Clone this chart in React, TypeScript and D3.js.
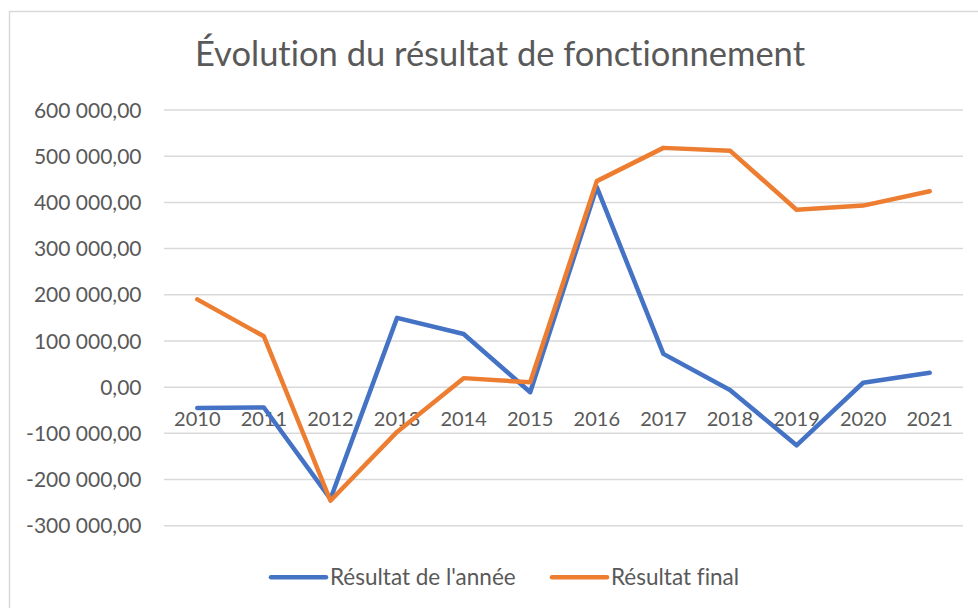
import React from 'react';
import * as d3 from 'd3';

const years = ['2010', '2011', '2012', '2013', '2014', '2015', '2016', '2017', '2018', '2019', '2020', '2021'];
const resultatAnnee = [-45000, -44000, -242000, 150000, 115000, -11000, 433000, 72000, -6000, -126000, 9500, 31000];
const resultatFinal = [190000, 110000, -246000, -97000, 19500, 10500, 446000, 518000, 512000, 384000, 393000, 424000];
const yTicks = [-300000, -200000, -100000, 0, 100000, 200000, 300000, 400000, 500000, 600000];

const series = [
  { name: "Résultat de l'année", values: resultatAnnee, color: '#4472C4' },
  { name: 'Résultat final', values: resultatFinal, color: '#ED7D31' },
];

const width = 978;
const height = 608;
const font = 'Lato, "Open Sans", sans-serif';
const textColor = '#595959';

const fr = d3.formatLocale({ decimal: ',', thousands: '\u00a0', grouping: [3], currency: ['', ' €'], minus: '-' });
const fmt = fr.format(',.2f');

const App = () => {
  const x = d3.scaleBand().domain(years).range([164, 963]).padding(0);
  const y = d3.scaleLinear().domain([-300000, 600000]).range([525.7, 110]);
  const cx = (d: string) => (x(d) as number) + x.bandwidth() / 2;

  const line = d3.line<number>()
    .x((_, i) => cx(years[i]))
    .y(d => y(d));

  // legend layout
  const legend = [
    { lineX: 271, textX: 330 },
    { lineX: 552, textX: 611 },
  ];

  return (
    <svg width={width} height={height}
      style={{ position: 'absolute', left: 0, top: 0, background: '#fff', fontVariantLigatures: 'none' }}>
      <rect x={9.5} y={11.5} width={1000} height={700} fill="#fff" stroke="#d9d9d9" strokeWidth={1.5} />

      <text x={500} y={66} textAnchor="middle" fontFamily={font} fontSize={34.5} fill={textColor}>
        Évolution du résultat de fonctionnement
      </text>

      {yTicks.map(t => (
        <g key={t}>
          <line x1={164} x2={963} y1={y(t)} y2={y(t)} stroke="#d9d9d9" strokeWidth={1.5} />
          <text x={141.5} y={y(t)} dy="0.36em" textAnchor="end" fontFamily={font} fontSize={21} fill={textColor}>
            {fmt(t)}
          </text>
        </g>
      ))}

      {years.map(yr => (
        <text key={yr} x={cx(yr)} y={425.5} textAnchor="middle" fontFamily={font} fontSize={20} fill={textColor}>
          {yr}
        </text>
      ))}

      {series.map(s => (
        <path key={s.name} d={line(s.values) as string} fill="none" stroke={s.color}
          strokeWidth={4.5} strokeLinejoin="round" strokeLinecap="round" />
      ))}

      {series.map((s, i) => (
        <g key={s.name}>
          <line x1={legend[i].lineX} x2={legend[i].lineX + 55} y1={577.3} y2={577.3}
            stroke={s.color} strokeWidth={4.5} strokeLinecap="round" />
          <text x={legend[i].textX} y={584.5} fontFamily={font} fontSize={22.5} fill={textColor}>
            {s.name}
          </text>
        </g>
      ))}
    </svg>
  );
};

export default App;
